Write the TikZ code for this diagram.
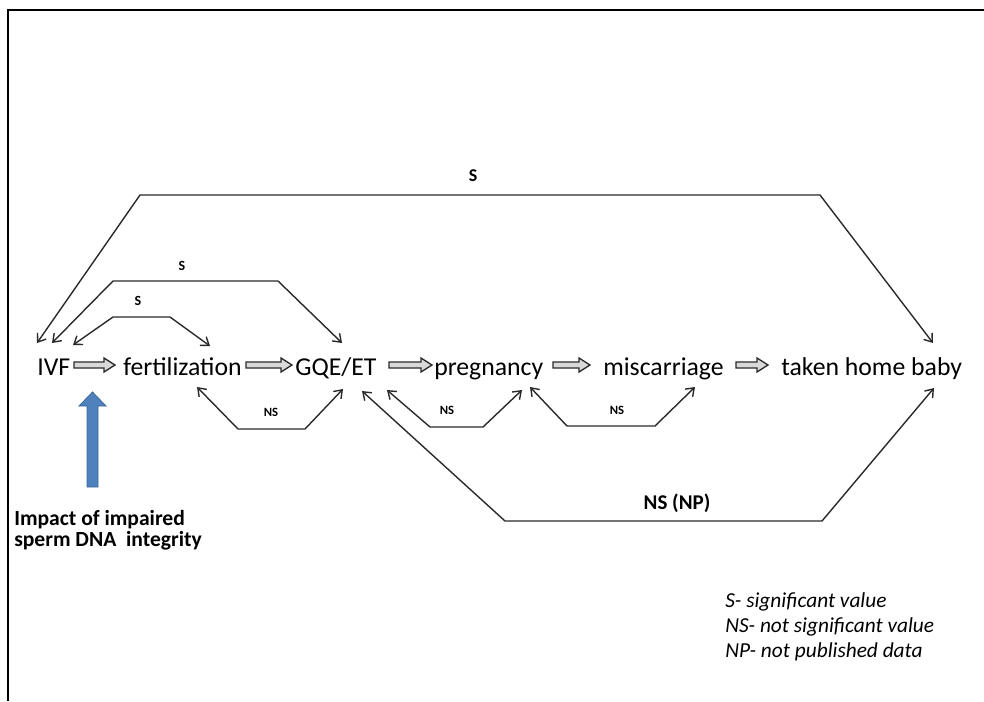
\documentclass[tikz,border=0pt]{standalone}
\usepackage{fontspec}
\setmainfont{Carlito}
\usetikzlibrary{arrows.meta}
\definecolor{linecol}{HTML}{2A2A2A}
\definecolor{blockfill}{HTML}{D9D9D9}
\definecolor{blueF}{HTML}{4F81BD}
\definecolor{blueD}{HTML}{3A6699}
\tikzset{
  stage/.style={anchor=base west, inner sep=0pt, font=\fontsize{19.3}{20}\selectfont},
  conn/.style={draw=linecol, line width=1.05pt, line join=miter,
     {Straight Barb[length=5.5pt,width=8pt]}-{Straight Barb[length=5.5pt,width=8pt]}},
  barrow/.style={draw=linecol, fill=blockfill, line width=1pt, line join=miter},
  biglab/.style={inner sep=0pt, font=\bfseries\fontsize{13.5}{15}\selectfont},
  smlab/.style={inner sep=0pt, font=\bfseries\fontsize{10.5}{12}\selectfont},
  nslab/.style={inner sep=0pt, font=\bfseries\fontsize{9.5}{11}\selectfont},
}
\newcommand{\blockarrow}[2]{%
  \draw[barrow] (#1,362) -- ({#2-11},362) -- ({#2-11},358) -- (#2,365)
     -- ({#2-11},372) -- ({#2-11},368) -- (#1,368) -- cycle;}
\begin{document}
\begin{tikzpicture}[x=0.75pt,y=-0.75pt]
\useasboundingbox (0,0) rectangle (984,701);
% frame
\draw[line width=1.3pt] (8,701) -- (8,10) -- (984,10);

% stages
\node[stage] (ivf)  at (37,375)  {IVF};
\node[stage] (fert) at (123,375) {fertilization};
\node[stage] (gqe)  at (295,375) {GQE/ET};
\node[stage] (preg) at (434,375) {pregnancy};
\node[stage] (misc) at (603,375) {miscarriage};
\node[stage] (baby) at (781,375) {taken home baby};

% block arrows
\blockarrow{74}{115}
\blockarrow{246}{292}
\blockarrow{389}{432}
\blockarrow{553}{590}
\blockarrow{736}{768}

% blue impact arrow
\node[anchor=west, inner sep=0pt, align=left,
      font=\bfseries\fontsize{16.2}{15.75}\selectfont] (impact) at (14,530)
      {Impact of impaired\\sperm DNA\ \ integrity};
\draw[fill=blueF, draw=blueD, line width=0.6pt]
  (87,487) -- (87,406) -- (79,406) -- (92.5,392) -- (106,406) -- (98,406) -- (98,487) -- cycle;

% connectors
\draw[conn] ([shift={(152,-32)}]baby.base west) -- (820,195) -- (140,195)
   -- ([shift={(0,-32)}]ivf.base west);
\node[biglab] (s1) at (473,176) {S};

\draw[conn] ([shift={(47,-32)}]gqe.base west) -- (278,281) -- (113,281)
   -- ([shift={(15,-32)}]ivf.base west);
\node[smlab] (s2) at (182,266) {S};

\draw[conn] ([shift={(87,-29)}]fert.base west) -- (170,317) -- (113,317)
   -- ([shift={(36,-30)}]ivf.base west);
\node[smlab] (s3) at (138,301) {S};

\draw[conn] ([shift={(74,12)}]fert.base west) -- (238,429) -- (305,429)
   -- ([shift={(48,14)}]gqe.base west);
\node[nslab] (ns1) at (271,412) {NS};

\draw[conn] ([shift={(92,15)}]gqe.base west) -- (430,427) -- (483,427)
   -- ([shift={(88,15)}]preg.base west);
\node[nslab] (ns2) at (447,410) {NS};

\draw[conn] ([shift={(96,12)}]preg.base west) -- (567,426) -- (655,426)
   -- ([shift={(92,12)}]misc.base west);
\node[nslab] (ns3) at (617,410) {NS};

\draw[conn] ([shift={(67,16)}]gqe.base west) -- (505,521) -- (822,521)
   -- ([shift={(153,13)}]baby.base west);
\node[inner sep=0pt, font=\bfseries\fontsize{15.75}{17}\selectfont] (nsnp) at (677,503) {NS (NP)};

% legend
\node[anchor=west, inner sep=0pt, align=left,
      font=\itshape\fontsize{16}{18.75}\selectfont] (legend) at (725,627)
      {S- significant value\\NS- not significant value\\NP- not published data};
\end{tikzpicture}
\end{document}
